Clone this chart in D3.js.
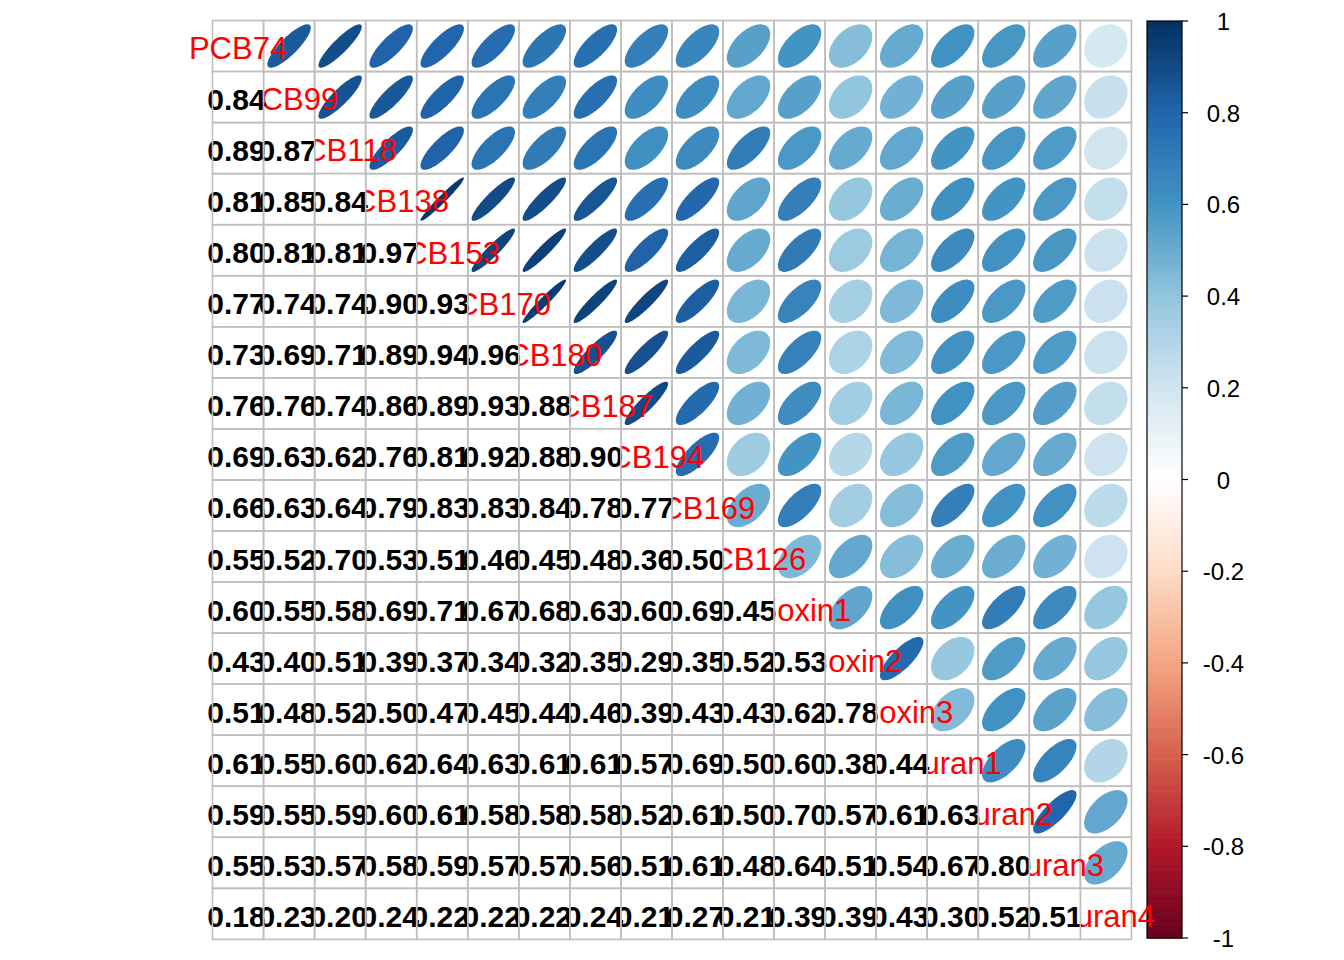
<!DOCTYPE html>
<html><head><meta charset="utf-8">
<script src="https://cdn.jsdelivr.net/npm/d3@7"></script>
<style>body{margin:0;background:#fff}svg{display:block}</style>
</head><body>
<svg id="c" width="1344" height="960"></svg>
<script>
const variables = ["PCB74","PCB99","PCB118","PCB138","PCB153","PCB170","PCB180","PCB187","PCB194","PCB169","PCB126","Dioxin1","Dioxin2","Dioxin3","Furan1","Furan2","Furan3","Furan4"];
// lower triangle correlations, row i has i values (columns 0..i-1)
const lowerRows = [
  [],
  [0.84],
  [0.89,0.87],
  [0.81,0.85,0.84],
  [0.80,0.81,0.81,0.97],
  [0.77,0.74,0.74,0.90,0.93],
  [0.73,0.69,0.71,0.89,0.94,0.96],
  [0.76,0.76,0.74,0.86,0.89,0.93,0.88],
  [0.69,0.63,0.62,0.76,0.81,0.92,0.88,0.90],
  [0.66,0.63,0.64,0.79,0.83,0.83,0.84,0.78,0.77],
  [0.55,0.52,0.70,0.53,0.51,0.46,0.45,0.48,0.36,0.50],
  [0.60,0.55,0.58,0.69,0.71,0.67,0.68,0.63,0.60,0.69,0.45],
  [0.43,0.40,0.51,0.39,0.37,0.34,0.32,0.35,0.29,0.35,0.52,0.53],
  [0.51,0.48,0.52,0.50,0.47,0.45,0.44,0.46,0.39,0.43,0.43,0.62,0.78],
  [0.61,0.55,0.60,0.62,0.64,0.63,0.61,0.61,0.57,0.69,0.50,0.60,0.38,0.44],
  [0.59,0.55,0.59,0.60,0.61,0.58,0.58,0.58,0.52,0.61,0.50,0.70,0.57,0.61,0.63],
  [0.55,0.53,0.57,0.58,0.59,0.57,0.57,0.56,0.51,0.61,0.48,0.64,0.51,0.54,0.67,0.80],
  [0.18,0.23,0.20,0.24,0.22,0.22,0.22,0.24,0.21,0.27,0.21,0.39,0.39,0.43,0.30,0.52,0.51]
];
const colorStops = ["#67001F","#B2182B","#D6604D","#F4A582","#FDDBC7","#FFFFFF","#D1E5F0","#92C5DE","#4393C3","#2166AC","#053061"];
const legendTicks = [1,0.8,0.6,0.4,0.2,0,-0.2,-0.4,-0.6,-0.8,-1];
const legendLabels = ["1","0.8","0.6","0.4","0.2","0","-0.2","-0.4","-0.6","-0.8","-1"];

const n = variables.length;
const corr = (i,j) => i===j ? 1 : (i>j ? lowerRows[i][j] : lowerRows[j][i]);

const svg = d3.select("#c");
const x = d3.scaleBand().domain(variables).range([212.5, 1131.4]).padding(0);
const y = d3.scaleBand().domain(variables).range([20.5, 939.4]).padding(0);
const cs = x.bandwidth();
const color = d3.scaleLinear().domain(d3.range(11).map(k => -1 + k*0.2)).range(colorStops).interpolate(d3.interpolateRgb).clamp(true);

const upperCells = [], lowerCells = [], diagCells = [];
for (let i=0;i<n;i++) for (let j=0;j<n;j++) {
  const c = {i, j, r: corr(i,j), rowName: variables[i], colName: variables[j]};
  if (j>i) upperCells.push(c); else if (j<i) lowerCells.push(c); else diagCells.push(c);
}

const gridCol = "#bebebe", gridW = 1.6;

// color legend (drawn first, labels may overlap it)
const ly = d3.scaleLinear().domain([-1,1]).range([938, 21]);
const lx0 = 1147, lx1 = 1182;
const gC = svg.append("g");
const steps = d3.range(200).map(k => -1 + (k+0.5)*2/200);
gC.selectAll("rect.s").data(steps).join("rect").attr("class","s")
  .attr("x", lx0).attr("width", lx1-lx0)
  .attr("y", d => ly(d + 1/200) ).attr("height", Math.abs(ly(0)-ly(2/200)) + 0.6)
  .attr("fill", d => color(d));
gC.append("rect").attr("x", lx0).attr("y", ly(1)).attr("width", lx1-lx0).attr("height", ly(-1)-ly(1))
  .attr("fill","none").attr("stroke","#000").attr("stroke-width",1.2);
gC.selectAll("line.t").data(legendTicks).join("line").attr("class","t")
  .attr("x1", lx1).attr("x2", lx1+6).attr("y1", d => ly(d)).attr("y2", d => ly(d))
  .attr("stroke","#000").attr("stroke-width",1.2);
gC.selectAll("text").data(legendTicks).join("text")
  .attr("x", 1223.5).attr("y", d => ly(d)+9)
  .attr("text-anchor","middle").attr("fill","#000")
  .style("font-family","'Liberation Sans', Arial, sans-serif").style("font-size","24px")
  .text((d,k) => legendLabels[k]);

// upper: background + ellipses
const ellipse = (r) => {
  const a = Math.acos(r)/2;
  const pts = d3.range(0, 100).map(k => {
    const t = k/99*2*Math.PI;
    return [0.85*Math.cos(t + a)/2*cs, -0.85*Math.cos(t - a)/2*cs];
  });
  return d3.line()(pts) + "Z";
};
const gU = svg.append("g");
gU.selectAll("rect").data(upperCells.concat(diagCells)).join("rect")
  .attr("x", d => x(d.colName)).attr("y", d => y(d.rowName))
  .attr("width", cs).attr("height", cs).attr("fill", "#fff");
gU.selectAll("path").data(upperCells).join("path")
  .attr("transform", d => `translate(${x(d.colName)+cs/2},${y(d.rowName)+cs/2})`)
  .attr("d", d => ellipse(d.r)).attr("fill", d => color(d.r));
gU.selectAll("rect.g").data(upperCells.concat(diagCells)).join("rect").attr("class","g")
  .attr("x", d => x(d.colName)).attr("y", d => y(d.rowName))
  .attr("width", cs).attr("height", cs).attr("fill", "none")
  .attr("stroke", gridCol).attr("stroke-width", gridW);

// diagonal labels
svg.append("g").selectAll("text").data(diagCells).join("text")
  .attr("x", d => x(d.colName)+cs/2).attr("y", d => y(d.rowName)+cs/2+13.3)
  .attr("text-anchor","middle").attr("fill","#ff0000")
  .style("font-family","'Liberation Sans', Arial, sans-serif").style("font-size","31px")
  .text(d => d.rowName);

// lower: background, numbers, grid
const gL = svg.append("g");
gL.selectAll("rect").data(lowerCells).join("rect")
  .attr("x", d => x(d.colName)).attr("y", d => y(d.rowName))
  .attr("width", cs).attr("height", cs).attr("fill", "#fff");
gL.selectAll("text").data(lowerCells).join("text")
  .attr("x", d => x(d.colName)+cs/2 - 1.5).attr("y", d => y(d.rowName)+cs/2+13)
  .attr("text-anchor","middle").attr("fill","#000")
  .style("font-family","'Liberation Sans', Arial, sans-serif").style("font-size","30px").style("font-weight","bold")
  .text(d => d.r.toFixed(2));
gL.selectAll("rect.g").data(lowerCells).join("rect").attr("class","g")
  .attr("x", d => x(d.colName)).attr("y", d => y(d.rowName))
  .attr("width", cs).attr("height", cs).attr("fill", "none")
  .attr("stroke", gridCol).attr("stroke-width", gridW);
</script>
</body></html>
